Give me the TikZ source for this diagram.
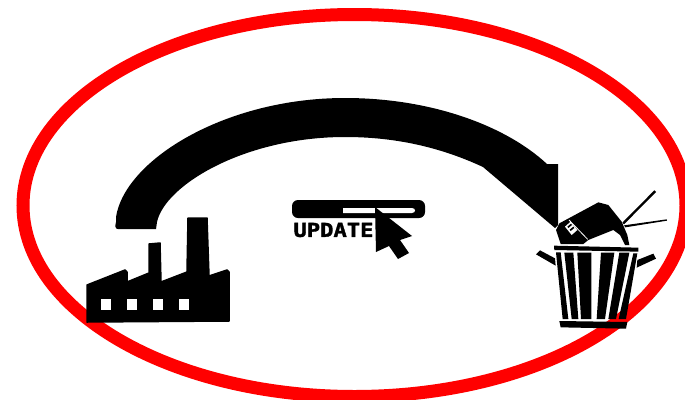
\documentclass[tikz,border=0pt]{standalone}
\usepackage{fontspec}
\newfontfamily\updfont[FakeBold=1.6]{DejaVu Sans Mono Bold}
\tikzset{
  ink/.style={fill=black,draw=none},
  inkround/.style={fill=black,draw=black,line width=1.5pt,line join=round},
  hole/.style={fill=white,draw=none},
  zoomed/.style={x=.33333pt,y=-.33333pt},
  ring/.style={draw=red,line width=13pt}
}
\begin{document}
\begin{tikzpicture}[x=1pt,y=-1pt]
\useasboundingbox (0,0) rectangle (685,399);
\clip (0,0) rectangle (685,399);
\fill[white] (0,0) rectangle (685,399);
\draw[ring] (354.5,205.5) ellipse [x radius=331.5pt,y radius=191pt];
% big arrow
\path[ink,line join=round] (118,229) .. controls (115,229) and (115,226) .. (116,222)
  -- (116,217) .. controls (125,160) and (225,98) .. (345,98)
  .. controls (430,98) and (505,125) .. (547,164)
  -- (558,164) -- (558,225) -- (555,228) -- (483,167)
  .. controls (440,147) and (395,137) .. (345,137)
  .. controls (245,137) and (165,185) .. (157,222) -- (156,229) -- cycle;
% factory
\path[inkround] (87,285) -- (125,270) -- (127,272) -- (127,282) -- (149,273) -- (149,244) -- (160,243) -- (161,282) -- (187,272) -- (188,218) -- (207,218) -- (209,276) -- (227,270) -- (229,272) -- (229,321) -- (87,322) -- cycle;
\foreach \wx in {101,127,153,179} \path[hole] (\wx,299) rectangle ++(10,11);
% update bar
\path[ink,rounded corners=6pt] (292,200) rectangle (425,218);
\path[hole] (343,208) -- (412,208) arc[start angle=90,end angle=-90,x radius=3pt,y radius=2.5pt] -- (343,213) -- cycle;
\node[inner sep=0pt,anchor=center,text=black] (updatelabel) at (333.5,230) {\updfont\fontsize{18}{18}\selectfont\scalebox{1.23}[1.07]{UPDATE}};
% cursor
\path[ink] (375,207) -- (412,236) -- (400,240) -- (409,253) -- (398,259) -- (389,246) -- (376,252) -- cycle;
% trash and tv
\begin{scope}[xshift=520pt,yshift=-170pt,zoomed]
  \path[ink,line join=round] (108,180) -- (118,160) -- (235,97) -- (265,105) -- (305,155) -- (322,195) -- (328,225) -- (315,225) -- (300,195) -- (280,180) -- (205,210) -- (190,222) -- (122,222) -- cycle;
  \path[ink] (307,158) -- (403,61) -- (408,66) -- (312,163) -- cycle;
  \path[ink] (312,166) -- (440,148) -- (441,152) -- (316,172) -- cycle;
  \draw[white,line width=.8pt] (147,150) -- (203,208);
  \path[hole] (135,170) -- (152,155) -- (172,180) -- (155,195) -- cycle;
  \path[ink] (142,170) -- (153,161) -- (156,165) -- (145,174) -- cycle;
  \path[ink] (149,179) -- (160,170) -- (163,174) -- (152,183) -- cycle;
  \path[ink] (102,227) -- (355,233) -- (355,245) -- (103,240) -- cycle;
  \path[ink] (108,247) -- (122,247) -- (145,447) -- (128,447) -- cycle;
  \path[ink] (133,248) -- (160,248) -- (175,447) -- (155,447) -- cycle;
  \path[ink] (172,248) -- (214,248) -- (214,447) -- (183,447) -- cycle;
  \path[ink] (243,248) -- (283,248) -- (255,447) -- (230,447) -- cycle;
  \path[ink] (298,248) -- (328,248) -- (288,447) -- (265,447) -- cycle;
  \path[ink] (340,250) -- (352,250) -- (318,447) -- (296,447) -- cycle;
  \path[ink] (118,453) -- (322,456) -- (318,476) -- (122,472) -- cycle;
  \path[ink] (48,253) -- (60,241) -- (105,265) -- (107,287) -- cycle;
  \path[ink] (352,270) -- (400,251) -- (408,266) -- (350,293) -- cycle;
\end{scope}
\end{tikzpicture}
\end{document}
